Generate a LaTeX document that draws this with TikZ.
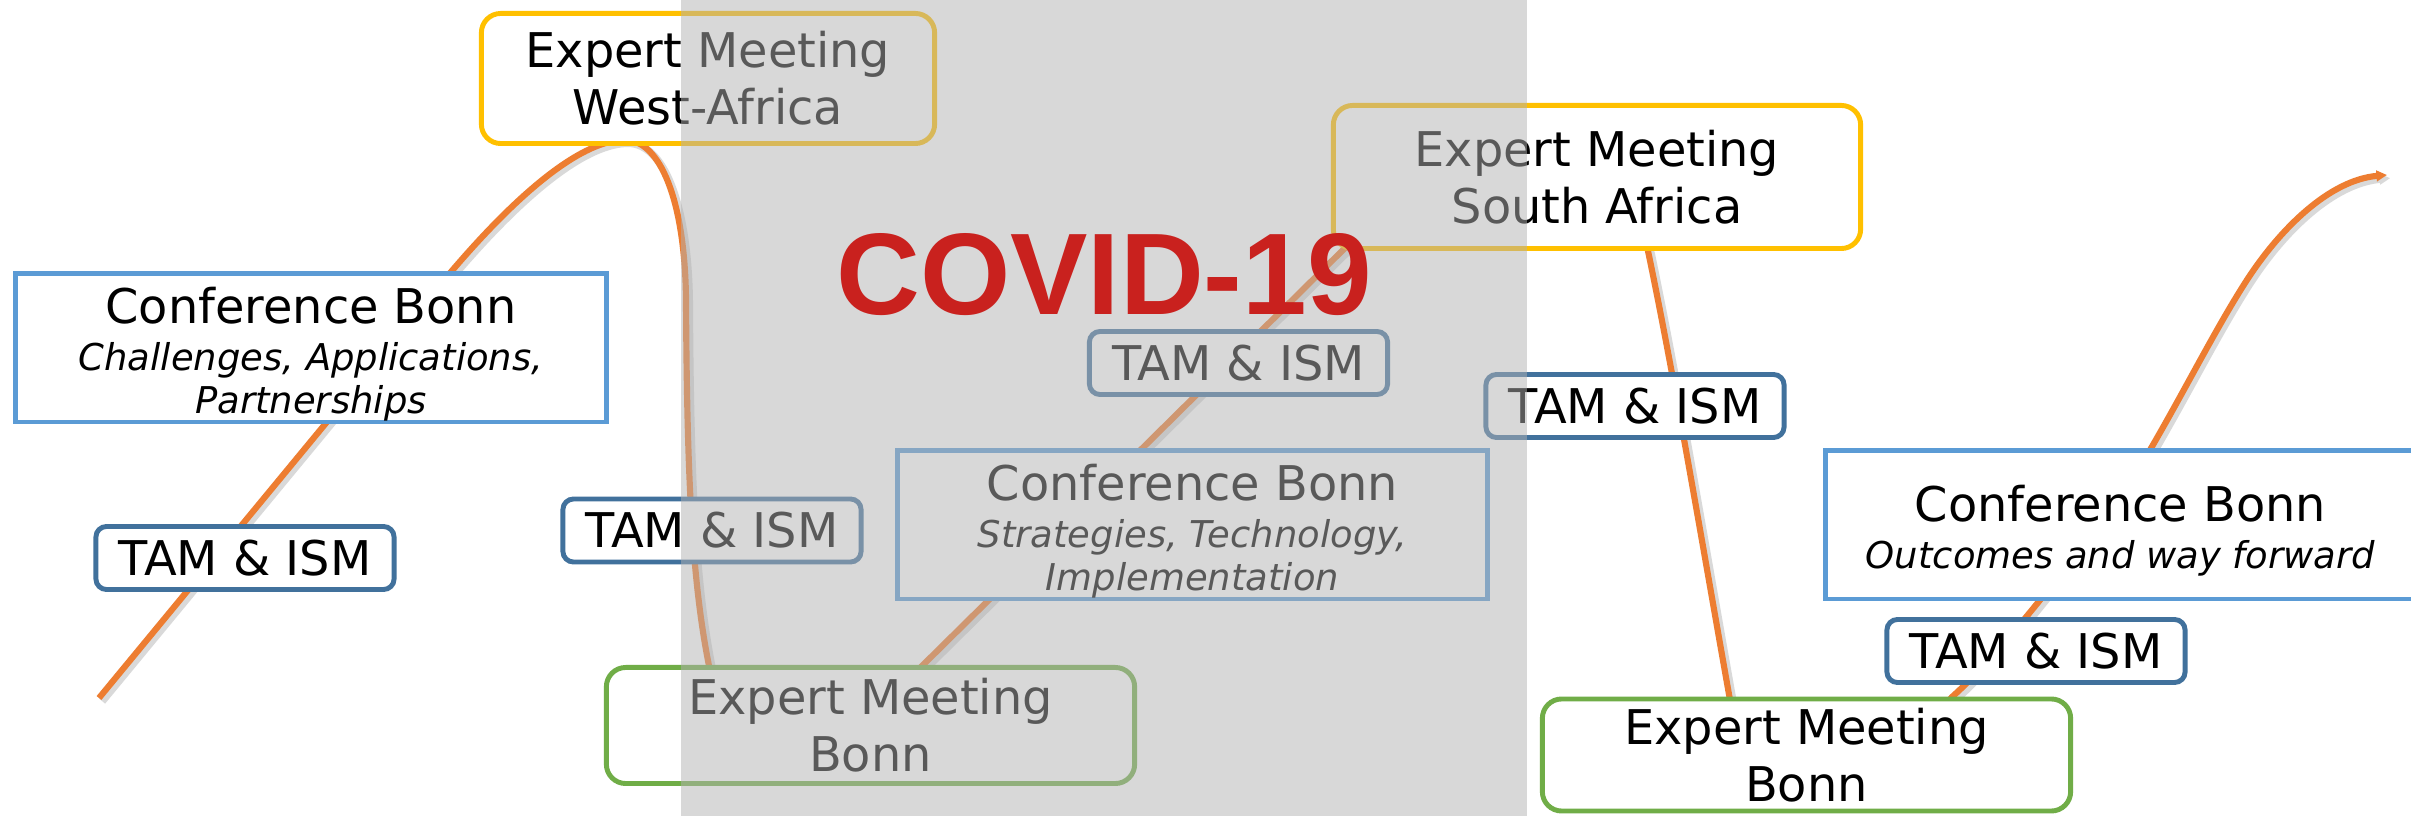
\documentclass[tikz,border=0pt]{standalone}
\usepackage{fontspec}
\setmainfont{DejaVu Sans}
\newfontfamily\covidfont{Liberation Sans}
\usetikzlibrary{arrows.meta}

\definecolor{waveorange}{HTML}{ED7D31}
\definecolor{confblue}{HTML}{5B9BD5}
\definecolor{tamblue}{HTML}{41719C}
\definecolor{expyellow}{HTML}{FFC000}
\definecolor{expgreen}{HTML}{70AD47}
\definecolor{covidred}{HTML}{C9211E}

\newcommand\subfont{\fontsize{10.5}{12}\selectfont\itshape}
% pushes the conference text a little down in its box
\newcommand\confstrut{\rule{0pt}{13.8pt}}

\tikzset{
    panel/.style ={draw, fill=white, line width=1.4pt, align=center, inner sep=0pt,
                   font=\fontsize{13.6}{16.2}\selectfont},
    conf/.style ={panel, draw=confblue, minimum width=5.9cm, minimum height=1.48cm,
                  font=\fontsize{13.6}{13.4}\selectfont},
    tam/.style ={panel, draw=tamblue, rounded corners=3pt,
                 minimum width=2.98cm, minimum height=0.63cm},
    expert/.style ={panel, rounded corners=5.5pt},
    wave/.style ={draw=waveorange, line width=1.75pt, -{Triangle[length=3pt,width=3pt]},
                  preaction={draw=black!15, line width=2.2pt,
                             transform canvas={xshift=0.9pt,yshift=-0.9pt}}},
    covid/.style ={text=covidred, inner sep=0pt,
                   font=\covidfont\bfseries\fontsize{33}{40}\selectfont}
}

\begin{document}
\begin{tikzpicture}[x=0.01cm,y=-0.01cm]

    \useasboundingbox (0,0) rectangle (2411,816);
    \fill[white] (0,0) rectangle (2411,816);

    % the timeline, it runs behind the boxes
    \coordinate (start) at (99,698);
    \coordinate (finish) at (2387,175);
    \draw[wave] (start) -- (440,285)
        .. controls (523,185) and (585,140) .. (625,140)
        .. controls (660,140) and (685,200) .. (686,300)
        .. controls (687,480) and (692,590) .. (712,680)
        .. controls (722,740) and (880,710) .. (923,665)
        -- (1345,248)
        .. controls (1420,170) and (1620,150) .. (1648,251)
        .. controls (1675,380) and (1705,560) .. (1730,700)
        .. controls (1745,790) and (1900,760) .. (1952,697)
        .. controls (2020,636) and (2125,490) .. (2150,450)
        .. controls (2185,390) and (2215,330) .. (2245,283)
        .. controls (2280,228) and (2330,180) .. (finish);

    % first year
    \node[conf] (confCA) at (311,348)
        {\confstrut Conference Bonn\\{\subfont Challenges, Applications,}\\[-1.3pt]{\subfont Partnerships}};
    \node[tam] (tamA) at (245,558) {TAM \& ISM};
    \node[expert, draw=expyellow, minimum width=4.53cm, minimum height=1.30cm] (expWA)
        at (708,78.5) {Expert Meeting\\West-Africa};
    \node[tam] (tamB) at (712,530.5) {TAM \& ISM};

    % second year
    \node[expert, draw=expgreen, minimum width=5.28cm, minimum height=1.16cm] (expBA)
        at (870.5,725.5) {Expert Meeting\\Bonn};
    \node[conf] (confST) at (1192.5,525)
        {\confstrut Conference Bonn\\{\subfont Strategies, Technology,}\\[-1.3pt]{\subfont Implementation}};
    \node[tam] (tamC) at (1238.5,363) {TAM \& ISM};
    \node[expert, draw=expyellow, minimum width=5.27cm, minimum height=1.43cm] (expSA)
        at (1597,177) {Expert Meeting\\South Africa};

    % third year
    \node[tam] (tamD) at (1635,406) {TAM \& ISM};
    \node[expert, draw=expgreen, minimum width=5.28cm, minimum height=1.12cm] (expBB)
        at (1806.5,755) {Expert Meeting\\Bonn};
    \node[tam] (tamE) at (2036,651) {TAM \& ISM};
    \node[conf] (confOW) at (2120.5,525)
        {\confstrut Conference Bonn\\{\subfont Outcomes and way forward}};

    % pandemic gap
    \fill[black!30, opacity=0.5] (681,0) rectangle (1527,816);
    \node[covid, anchor=base] (covid) at (1104,315) {COVID-19};

\end{tikzpicture}
\end{document}
